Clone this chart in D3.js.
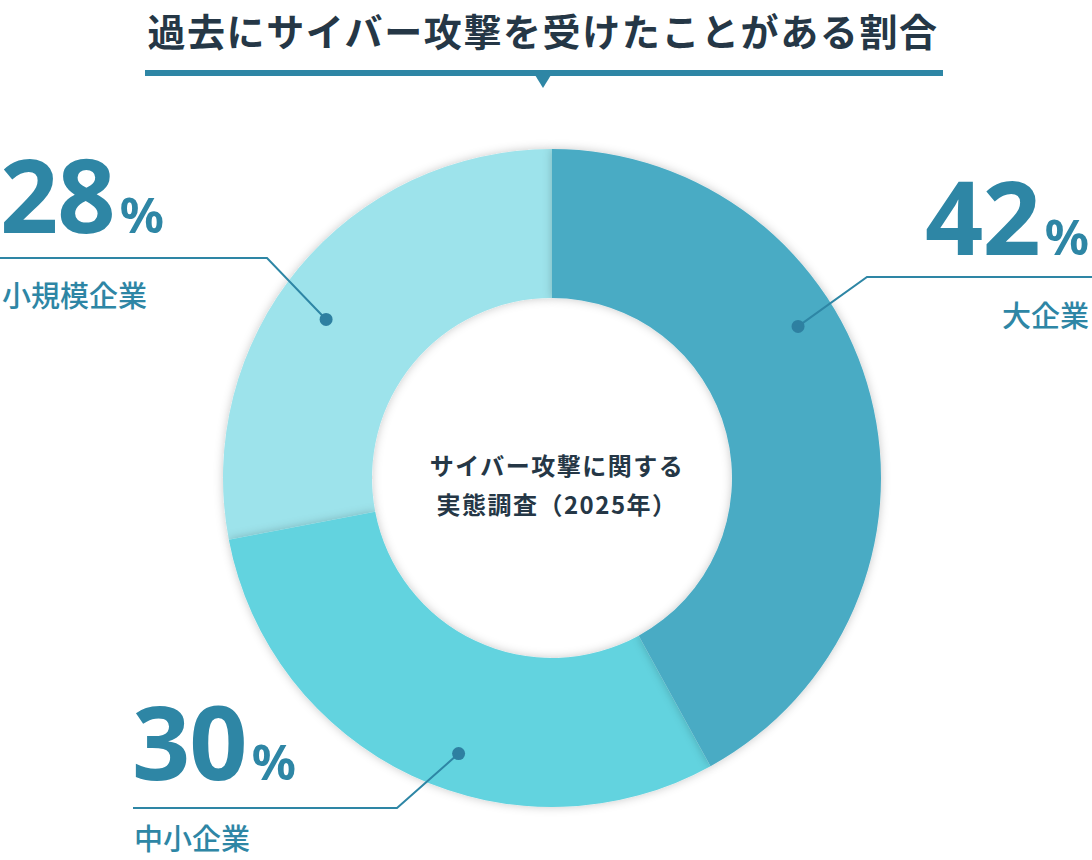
<!DOCTYPE html>
<html>
<head>
<meta charset="utf-8">
<script src="https://cdn.jsdelivr.net/npm/d3@7/dist/d3.min.js"></script>
<style>
  html, body { margin: 0; padding: 0; background: #fff; }
  svg { display: block; font-family: "Noto Sans CJK JP", "Noto Sans", sans-serif; }
</style>
</head>
<body>
<svg id="chart" width="1092" height="860"></svg>
<script>
// data
var categories = ['大企業', '中小企業', '小規模企業'];
var shares = [42, 30, 28];
var sliceColors = ['#4aabc4', '#62d3df', '#9de3eb'];
var chartTitle = '過去にサイバー攻撃を受けたことがある割合';
var centerLines = ['サイバー攻撃に関する', '実態調査（2025年）'];

// where each callout sits (fraction through its slice, radius of the dot)
var callouts = [
    {frac: 0.386, r: 289, elbow: [867, 277], end: 1092, anchor: 'end', tx: 1089, numY: 255, labY: 327},
    {frac: 0.44, r: 291, elbow: [397, 808], end: 133, anchor: 'start', tx: 132, numY: 780, labY: 850},
    {frac: 0.455, r: 276, elbow: [267, 258], end: 0, anchor: 'start', tx: 0, numY: 233, labY: 307}
];

var svg = d3.select('#chart');
var cx = 552, cy = 478, outerR = 329, innerR = 180;
var accent = '#2e86a5', dark = '#253746';

var defs = svg.append('defs');
var f = defs.append('filter').attr('id', 'shadow')
    .attr('x', '-20%').attr('y', '-20%').attr('width', '140%').attr('height', '140%');
f.append('feDropShadow').attr('dx', 0).attr('dy', 0)
    .attr('stdDeviation', 5).attr('flood-color', '#000').attr('flood-opacity', 0.22);

// title
svg.append('text')
    .attr('x', 543).attr('y', 46)
    .attr('text-anchor', 'middle')
    .attr('font-size', 38).attr('font-weight', 700)
    .attr('letter-spacing', 1.6)
    .attr('fill', dark)
    .text(chartTitle);
svg.append('rect').attr('x', 145).attr('y', 70).attr('width', 798).attr('height', 6).attr('fill', accent);
svg.append('path').attr('d', 'M535,75 L551,75 L543,88 Z').attr('fill', accent);

// donut
var pie = d3.pie().sort(null).value(function (d) { return d; });
var arcs = pie(shares);
var arc = d3.arc().innerRadius(innerR).outerRadius(outerR);

var g = svg.append('g').attr('transform', 'translate(' + cx + ',' + cy + ')');
// small slice first, large last, so each shadow falls on its neighbour
var order = [2, 1, 0];
g.selectAll('path.slice')
    .data(order.map(function (i) { return {a: arcs[i], i: i}; }))
    .enter().append('path')
    .attr('class', 'slice')
    .attr('d', function (d) { return arc(d.a); })
    .attr('fill', function (d) { return sliceColors[d.i]; })
    .attr('filter', 'url(#shadow)');

// centre text
svg.append('g').selectAll('text')
    .data(centerLines)
    .enter().append('text')
    .attr('x', 557)
    .attr('y', function (d, i) { return 475 + i * 39; })
    .attr('text-anchor', 'middle')
    .attr('font-size', 24).attr('font-weight', 700)
    .attr('letter-spacing', 1.5)
    .attr('fill', dark)
    .text(function (d) { return d; });

// callouts
callouts.forEach(function (c, i) {
    var a = arcs[i];
    var ang = a.startAngle + (a.endAngle - a.startAngle) * c.frac;
    var p = d3.pointRadial(ang, c.r);
    var dot = [cx + p[0], cy + p[1]];

    svg.append('path')
        .attr('d', d3.line()([dot, c.elbow, [c.end, c.elbow[1]]]))
        .attr('fill', 'none').attr('stroke', accent).attr('stroke-width', 2);
    svg.append('circle').attr('cx', dot[0]).attr('cy', dot[1]).attr('r', 6.5).attr('fill', '#2e80a1');

    var t = svg.append('text')
        .attr('x', c.tx).attr('y', c.numY)
        .attr('text-anchor', c.anchor)
        .attr('font-family', '"Noto Sans", "Noto Sans CJK JP", sans-serif')
        .attr('font-weight', 700).attr('fill', accent);
    t.append('tspan').attr('font-size', 102).attr('letter-spacing', -1).text(shares[i]);
    t.append('tspan').attr('font-size', 49).attr('dx', 5).text('%');

    svg.append('text')
        .attr('x', c.tx + (c.anchor === 'start' ? 2 : 0)).attr('y', c.labY)
        .attr('text-anchor', c.anchor)
        .attr('font-size', 29).attr('font-weight', 500)
        .attr('fill', accent)
        .text(categories[i]);
});
</script>
</body>
</html>
